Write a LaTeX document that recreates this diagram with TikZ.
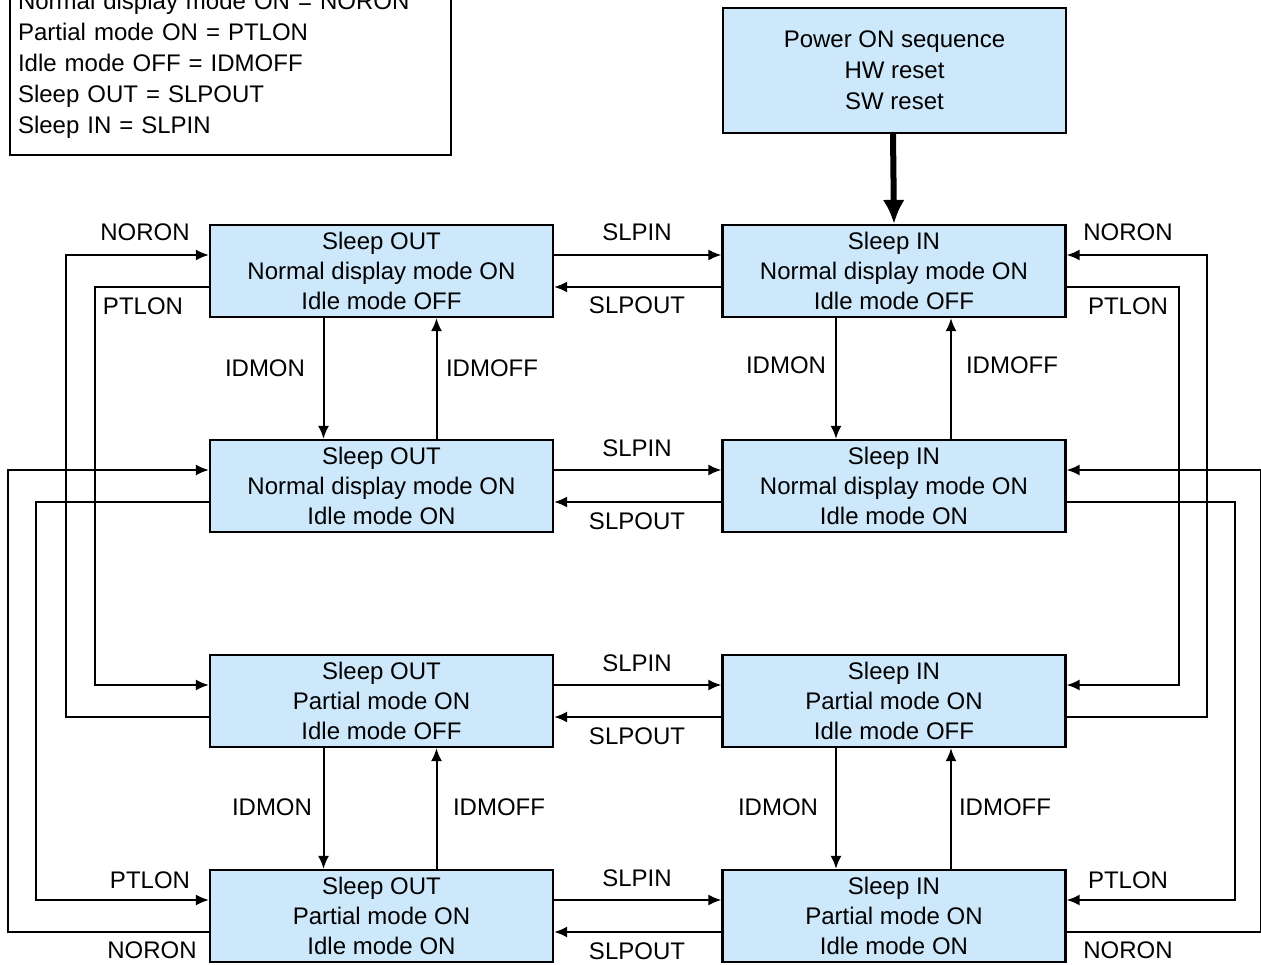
\documentclass[tikz,border=0pt]{standalone}
\usepackage{fontspec}
\setmainfont{Liberation Sans}
\usetikzlibrary{arrows.meta}
\definecolor{boxblue}{RGB}{204,232,250}
\begin{document}
\begin{tikzpicture}[x=1pt,y=-1pt,
  state/.style={draw, line width=2.2pt, fill=boxblue, minimum width=343pt, minimum height=92pt, align=center, font=\fontsize{24}{30}\selectfont, inner sep=0pt},
  lbl/.style={font=\fontsize{24}{30}\selectfont, inner sep=0pt},
  arr/.style={line width=2pt, -{Latex[length=13pt,width=11pt]}},
]
\useasboundingbox (0,0) rectangle (1261,965);
% legend
\node[draw, line width=2.2pt, align=left, text width=425pt, inner xsep=8pt, inner ysep=0pt, minimum height=180pt, font=\fontsize{24}{31}\selectfont] (legend) at (230.5,65)
 {Normal display mode ON = NORON\\Partial mode ON = PTLON\\Idle mode OFF = IDMOFF\\Sleep OUT = SLPOUT\\Sleep IN = SLPIN};
% power box
\node[state, minimum height=125pt, font=\fontsize{24}{31}\selectfont] (pw) at (894.5,70.5) {Power ON sequence\\HW reset\\SW reset};
% states
\node[state] (a1) at (381.5,271) {Sleep OUT\\Normal display mode ON\\Idle mode OFF};
\node[state] (b1) at (894,271) {Sleep IN\\Normal display mode ON\\Idle mode OFF};
\node[state] (a2) at (381.5,486) {Sleep OUT\\Normal display mode ON\\Idle mode ON};
\node[state] (b2) at (894,486) {Sleep IN\\Normal display mode ON\\Idle mode ON};
\node[state] (a3) at (381.5,701) {Sleep OUT\\Partial mode ON\\Idle mode OFF};
\node[state] (b3) at (894,701) {Sleep IN\\Partial mode ON\\Idle mode OFF};
\node[state] (a4) at (381.5,916) {Sleep OUT\\Partial mode ON\\Idle mode ON};
\node[state] (b4) at (894,916) {Sleep IN\\Partial mode ON\\Idle mode ON};
% power arrow
\draw[line width=6pt, -{Latex[length=24pt,width=22pt]}] ([xshift=-1.5pt]pw.south) -- (b1.north);
% horizontal SLPIN / SLPOUT
\foreach \r in {1,2,3,4}{
  \draw[arr] ([yshift=16pt]a\r.east) -- ([yshift=16pt]b\r.west);
  \draw[arr] ([yshift=-16pt]b\r.west) -- ([yshift=-16pt]a\r.east);
}
% vertical IDMON / IDMOFF
\draw[arr] ([xshift=-58pt]a1.south) -- ([xshift=-58pt]a2.north);
\draw[arr] ([xshift=55pt]a2.north) -- ([xshift=55pt]a1.south);
\draw[arr] ([xshift=-58pt]b1.south) -- ([xshift=-58pt]b2.north);
\draw[arr] ([xshift=57pt]b2.north) -- ([xshift=57pt]b1.south);
\draw[arr] ([xshift=-58pt]a3.south) -- ([xshift=-58pt]a4.north);
\draw[arr] ([xshift=55pt]a4.north) -- ([xshift=55pt]a3.south);
\draw[arr] ([xshift=-58pt]b3.south) -- ([xshift=-58pt]b4.north);
\draw[arr] ([xshift=57pt]b4.north) -- ([xshift=57pt]b3.south);
% left loops
\draw[arr] ([yshift=-16pt]a1.west) -- ++(-114,0) |- ([yshift=16pt]a3.west);
\draw[arr] ([yshift=-16pt]a3.west) -- ++(-143,0) |- ([yshift=16pt]a1.west);
\draw[arr] ([yshift=-16pt]a2.west) -- ++(-173,0) |- ([yshift=16pt]a4.west);
\draw[arr] ([yshift=-16pt]a4.west) -- ++(-201,0) |- ([yshift=16pt]a2.west);
% right loops
\draw[arr] ([yshift=-16pt]b1.east) -- ++(112,0) |- ([yshift=16pt]b3.east);
\draw[arr] ([yshift=-16pt]b3.east) -- ++(140,0) |- ([yshift=16pt]b1.east);
\draw[arr] ([yshift=-16pt]b2.east) -- ++(168,0) |- ([yshift=16pt]b4.east);
\draw[arr] ([yshift=-16pt]b4.east) -- ++(194,0) |- ([yshift=16pt]b2.east);
% labels
\foreach \y/\n in {232/1,448/2,663/3,878/4}{\node[lbl] (slpin\n) at (637,\y) {SLPIN};}
\foreach \y/\n in {305/1,521/2,736/3,951/4}{\node[lbl] (slpout\n) at (637,\y) {SLPOUT};}
\node[lbl] (idmonA) at (265,368) {IDMON};
\node[lbl] (idmoffA) at (492,368) {IDMOFF};
\node[lbl] (idmonB) at (786,365) {IDMON};
\node[lbl] (idmoffB) at (1012,365) {IDMOFF};
\node[lbl] (idmonC) at (272,807) {IDMON};
\node[lbl] (idmoffC) at (499,807) {IDMOFF};
\node[lbl] (idmonD) at (778,807) {IDMON};
\node[lbl] (idmoffD) at (1005,807) {IDMOFF};
\node[lbl] (nl1) at (145,232) {NORON};
\node[lbl] (pl1) at (143,306) {PTLON};
\node[lbl] (nr1) at (1128,232) {NORON};
\node[lbl] (pr1) at (1128,306) {PTLON};
\node[lbl] (pl4) at (150,880) {PTLON};
\node[lbl] (nl4) at (152,950) {NORON};
\node[lbl] (pr4) at (1128,880) {PTLON};
\node[lbl] (nr4) at (1128,950) {NORON};
\end{tikzpicture}
\end{document}
